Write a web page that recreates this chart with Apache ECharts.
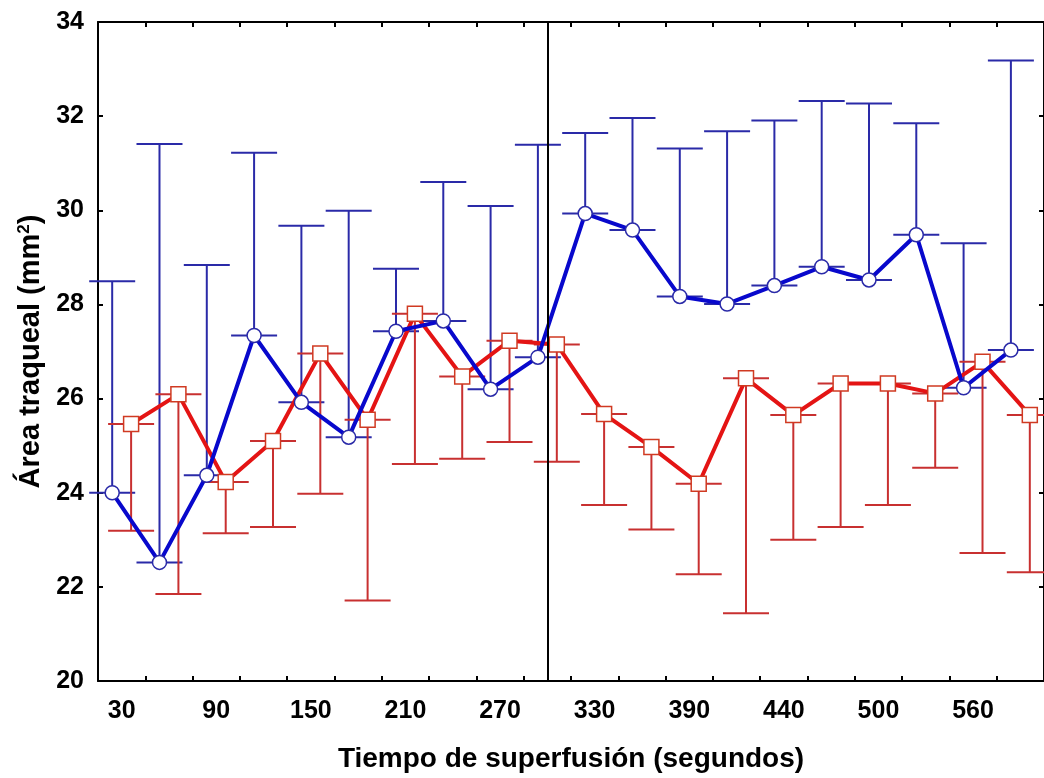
<!DOCTYPE html>
<html>
<head>
<meta charset="utf-8">
<style>
  html, body { margin: 0; padding: 0; background: #fff; }
  #chart { width: 1044px; height: 778px; }
</style>
<script src="https://cdn.jsdelivr.net/npm/echarts@6/dist/echarts.min.js"></script>
</head>
<body>
<div id="chart"></div>
<script>
// Category tick labels (only every other time point is labelled in the original)
const categories = ['30','','90','','150','','210','','270','','330','','390','','440','','500','','560',''];

// Blue series (circles): means and upper error-bar ends
const blueMean  = [24.0, 22.52, 24.37, 27.34, 25.92, 25.18, 27.43, 27.65, 26.2, 26.88, 29.93, 29.58, 28.17, 28.01, 28.40, 28.80, 28.52, 29.48, 26.23, 27.03];
const blueUpper = [28.49, 31.41, 28.84, 31.22, 29.67, 29.99, 28.76, 30.6, 30.09, 31.39, 31.64, 31.96, 31.31, 31.68, 31.91, 32.32, 32.27, 31.85, 29.30, 33.18];

// Red series (squares): means and lower error-bar ends
const redMean  = [25.46, 26.09, 24.23, 25.10, 26.96, 25.55, 27.80, 26.47, 27.23, 27.15, 25.67, 24.97, 24.19, 26.43, 25.65, 26.32, 26.32, 26.11, 26.78, 25.65];
const redLower = [23.19, 21.85, 23.14, 23.27, 23.98, 21.71, 24.61, 24.72, 25.08, 24.66, 23.74, 23.22, 22.27, 21.44, 23.0, 23.27, 23.74, 24.53, 22.72, 22.31];

// index of the time point where the vertical reference line is drawn
const markerIndex = 9;

const OFFSET = 0.2;
const blueColor = '#0808cc', blueErr = '#2a2aa8';
const redColor = '#e41414', redErr = '#c83030';

const bluePts = blueMean.map((v, i) => [i - OFFSET, v]);
const redPts = redMean.map((v, i) => [i + OFFSET, v]);
const blueErrData = blueMean.map((v, i) => [i - OFFSET, v, blueUpper[i]]);
const redErrData = redMean.map((v, i) => [i + OFFSET, v, redLower[i]]);

function makeErr(color) {
  return function (params, api) {
    const x = api.value(0), m = api.value(1), e = api.value(2);
    const p1 = api.coord([x, m]);
    const p2 = api.coord([x, e]);
    const hw = 23;
    const st = { stroke: color, lineWidth: 2 };
    return {
      type: 'group',
      children: [
        { type: 'line', shape: { x1: p1[0], y1: p1[1], x2: p2[0], y2: p2[1] }, style: st },
        { type: 'line', shape: { x1: p1[0] - hw, y1: p1[1], x2: p1[0] + hw, y2: p1[1] }, style: st },
        { type: 'line', shape: { x1: p2[0] - hw, y1: p2[1], x2: p2[0] + hw, y2: p2[1] }, style: st }
      ]
    };
  };
}

const axisLine = { show: true, onZero: false, lineStyle: { color: '#000', width: 2 } };
const tickInside = { show: true, inside: true, length: 5, lineStyle: { color: '#000', width: 2 } };
const font = "'Liberation Sans', Arial, sans-serif";

const chart = echarts.init(document.getElementById('chart'), null, { renderer: 'canvas' });
chart.setOption({
  backgroundColor: '#fff',
  animation: false,
  grid: { left: 98, right: -2, top: 22, bottom: 94, containLabel: false },
  xAxis: [
    {
      type: 'category', data: categories, position: 'bottom', boundaryGap: true,
      axisLine: axisLine,
      axisTick: Object.assign({ interval: 0 }, tickInside),
      axisLabel: { interval: 0, color: '#000', fontSize: 25, fontWeight: 'bold', fontFamily: font, margin: 18 },
      splitLine: { show: false },
      name: 'Tiempo de superfusión (segundos)',
      nameLocation: 'middle', nameGap: 64,
      nameTextStyle: { color: '#000', fontSize: 28, fontWeight: 'bold', fontFamily: font }
    },
    {
      type: 'category', data: categories, position: 'top', boundaryGap: true,
      axisLine: axisLine,
      axisTick: Object.assign({ interval: 0 }, tickInside),
      axisLabel: { show: false },
      splitLine: { show: false }
    },
    { type: 'value', min: -0.5, max: 19.5, show: false }
  ],
  yAxis: [
    {
      type: 'value', min: 20, max: 34, interval: 2, position: 'left',
      axisLine: axisLine, axisTick: tickInside,
      axisLabel: { color: '#000', fontSize: 25, fontWeight: 'bold', fontFamily: font, margin: 14 },
      splitLine: { show: false },
      name: 'Área traqueal (mm{sup|2})',
      nameLocation: 'middle', nameGap: 52,
      nameTextStyle: {
        color: '#000', fontSize: 29, fontWeight: 'bold', fontFamily: font,
        rich: { sup: { fontSize: 17, fontWeight: 'bold', fontFamily: font, color: '#000', verticalAlign: 'top', padding: [0, 0, 12, 0] } }
      }
    },
    {
      type: 'value', min: 20, max: 34, interval: 2, position: 'right',
      axisLine: axisLine, axisTick: tickInside,
      axisLabel: { show: false }, splitLine: { show: false }
    }
  ],
  series: [
    {
      type: 'custom', xAxisIndex: 2, yAxisIndex: 0,
      renderItem: makeErr(blueErr), data: blueErrData, z: 2,
      markLine: {
        silent: true, symbol: 'none', label: { show: false },
        lineStyle: { color: '#000', width: 2, type: 'solid' },
        data: [{ xAxis: markerIndex }]
      }
    },
    {
      type: 'custom', xAxisIndex: 2, yAxisIndex: 0,
      renderItem: makeErr(redErr), data: redErrData, z: 2
    },
    {
      type: 'line', xAxisIndex: 2, yAxisIndex: 0, data: redPts, z: 3,
      symbol: 'rect', symbolSize: 15,
      lineStyle: { color: redColor, width: 4 },
      itemStyle: { color: '#fff', borderColor: '#d03a22', borderWidth: 1.5 }
    },
    {
      type: 'line', xAxisIndex: 2, yAxisIndex: 0, data: bluePts, z: 4,
      symbol: 'circle', symbolSize: 14,
      lineStyle: { color: blueColor, width: 4 },
      itemStyle: { color: '#fff', borderColor: '#2a2aa8', borderWidth: 1.5 }
    }
  ]
});
</script>
</body>
</html>
